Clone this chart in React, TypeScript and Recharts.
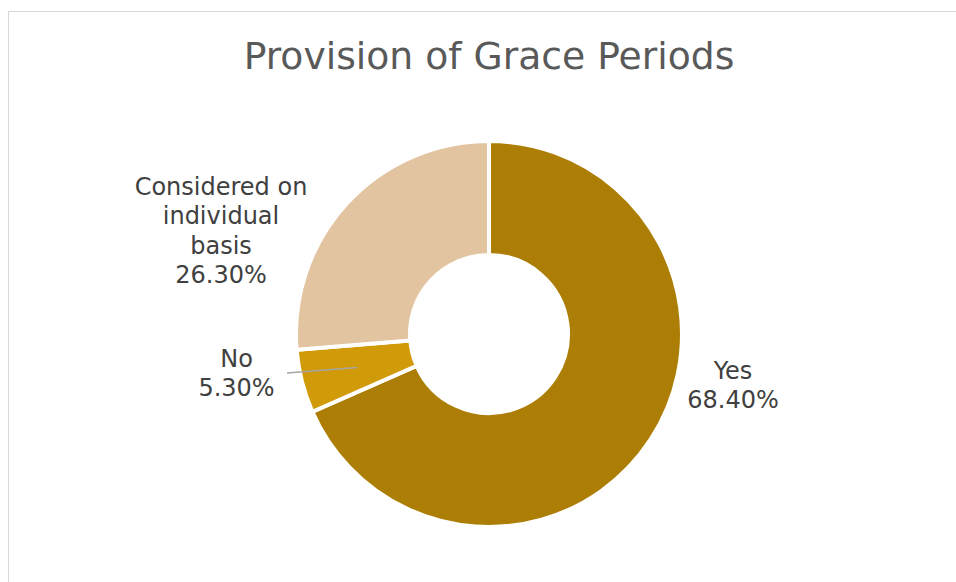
import React from "react";
import { PieChart, Pie, Cell } from "recharts";

const categories = ["Yes", "No", "Considered on individual basis"];
const shares = [68.4, 5.3, 26.3];
const labelLines = [["Yes"], ["No"], ["Considered on", "individual", "basis"]];
const colors = ["#AD7E06", "#D19A09", "#E2C4A1"];

const data = categories.map((name, i) => ({ name, value: shares[i], lines: labelLines[i] }));

const FONT = "'DejaVu Sans', Verdana, sans-serif";
const TEXT = "#404040";

// label block centre offsets relative to the pie centre (style only)
const labelOffsets: Record<string, { dx: number; dy: number }> = {
  Yes: { dx: 244, dy: 51.5 },
  No: { dx: -252.5, dy: 39.5 },
  "Considered on individual basis": { dx: -268, dy: -103 },
};

const RAD = Math.PI / 180;

const renderLabel = (props: any) => {
  const { cx, cy, midAngle, payload, percent, index } = props;
  const name = payload.name as string;
  const off = labelOffsets[name];
  const x = cx + off.dx;
  const y = cy + off.dy;
  const lines: string[] = [...payload.lines, `${(percent * 100).toFixed(2)}%`];
  const lh = 29.3;
  const startY = y - ((lines.length - 1) * lh) / 2;
  let leader = null;
  if (name === "No") {
    const r = 136;
    const sx = cx + r * Math.cos(-midAngle * RAD);
    const sy = cy + r * Math.sin(-midAngle * RAD);
    leader = <line x1={sx} y1={sy} x2={cx - 202} y2={cy + 39} stroke="#A6A6A6" strokeWidth={1.5} />;
  }
  return (
    <g key={`lbl-${index}`}>
      {leader}
      <text x={x} y={startY} textAnchor="middle" dominantBaseline="central" fill={TEXT} fontFamily={FONT} fontSize={24}>
        {lines.map((l, i) => (
          <tspan key={i} x={x} dy={i === 0 ? 0 : lh}>
            {l}
          </tspan>
        ))}
      </text>
    </g>
  );
};

export default function App() {
  return (
    <div style={{ position: "relative", width: 956, height: 582, overflow: "hidden", background: "#fff" }}>
      <style>{`html,body{margin:0;padding:0;overflow:hidden;}`}</style>
      <div
        style={{
          position: "absolute",
          left: 8,
          top: 11,
          width: 1200,
          height: 1200,
          border: "1px solid #D9D9D9",
          boxSizing: "border-box",
        }}
      />
      <div
        style={{
          position: "absolute",
          left: 0,
          top: 34,
          width: 978,
          textAlign: "center",
          fontFamily: FONT,
          fontSize: 37.7,
          color: "#595959",
          lineHeight: "44px",
        }}
      >
        Provision of Grace Periods
      </div>
      <div style={{ position: "absolute", left: 0, top: 0 }}>
        <PieChart width={956} height={582} margin={{ top: 0, right: 0, bottom: 0, left: 0 }}>
          <Pie
            data={data}
            dataKey="value"
            nameKey="name"
            cx={489}
            cy={334}
            innerRadius={79}
            outerRadius={193}
            startAngle={90}
            endAngle={-270}
            stroke="#FFFFFF"
            strokeWidth={4}
            label={renderLabel}
            labelLine={false}
            isAnimationActive={false}
          >
            {data.map((d, i) => (
              <Cell key={d.name} fill={colors[i]} />
            ))}
          </Pie>
        </PieChart>
      </div>
    </div>
  );
}
